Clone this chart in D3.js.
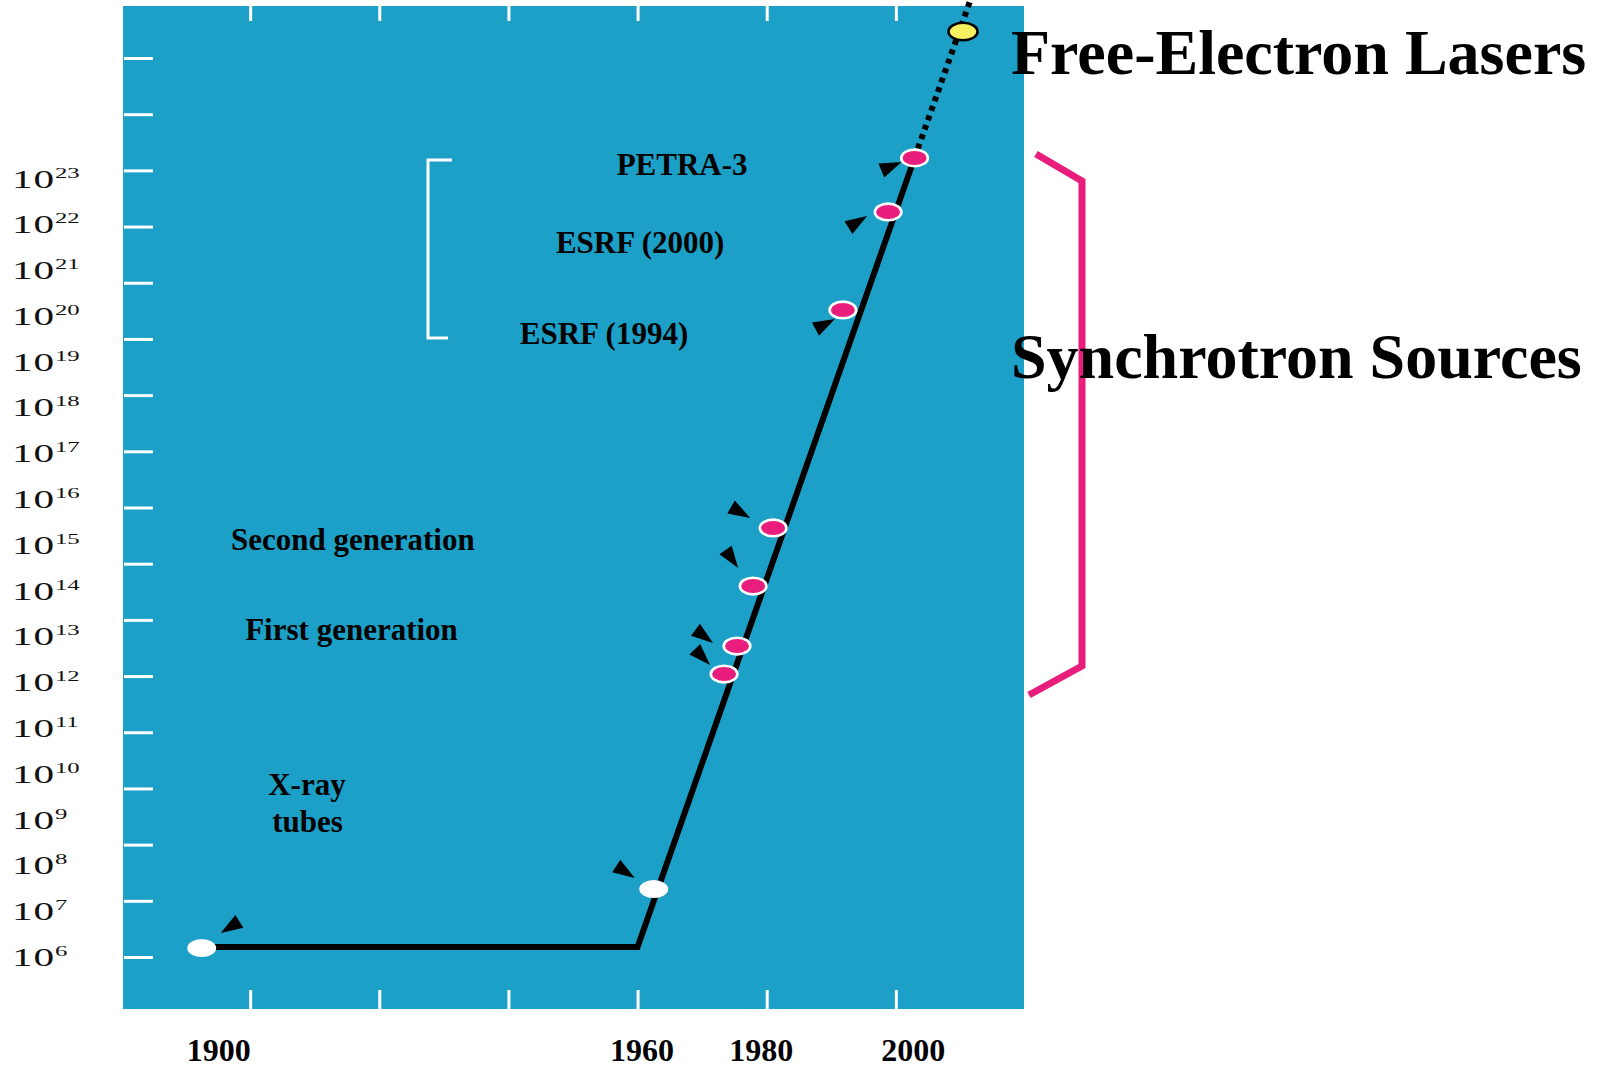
<!DOCTYPE html>
<html><head><meta charset="utf-8">
<script src="https://cdn.jsdelivr.net/npm/d3@7"></script>
<style>
html,body{margin:0;padding:0;background:#fff;}
svg{display:block;}
</style></head><body>
<svg id="chart" width="1598" height="1069"></svg>
<script>
// ---------------- data ----------------
const pointNames = ["X-ray tube", "Rotating anode", "First generation A", "First generation B",
  "Second generation A", "Second generation B", "ESRF (1994)", "ESRF (2000)", "PETRA-3", "Free-Electron Laser"];
const pointYears = [1892.5, 1962.5, 1973.4, 1975.4, 1977.9, 1981.0, 1991.8, 1998.8, 2002.9, 2010.4];
const pointBrilliance = [1.57e6, 3.05e7, 1.51e12, 6.17e12, 1.26e14, 2.34e15, 1.35e20, 1.86e22, 2.82e23, 1.62e26];
const pointKinds = ["tube", "tube", "sync", "sync", "sync", "sync", "sync", "sync", "sync", "fel"];

const trendYears = [1892.5, 1960, 2002.9];
const trendBrilliance = [1.65e6, 1.65e6, 2.82e23];
const projectionYears = [2002.9, 2011.8];
const projectionBrilliance = [2.82e23, 1e27];

const yTickExponents = [6, 7, 8, 9, 10, 11, 12, 13, 14, 15, 16, 17, 18, 19, 20, 21, 22, 23];
const frameTickCount = 17;
const xTickYears = [1900, 1920, 1940, 1960, 1980, 2000];
const xLabelYears = [1900, 1960, 1980, 2000];

const annotationTexts = ["PETRA-3", "ESRF (2000)", "ESRF (1994)", "Second generation", "First generation", "X-ray", "tubes"];
const annotationYears = [1966.9, 1960.4, 1954.8, 1915.9, 1915.7, 1908.8, 1908.9];
const annotationExponents = [23.08, 21.37, 19.39, 14.89, 12.92, 9.54, 8.73];

// ---------------- layout / style (not data) ----------------
const plotTop = 6, plotBottom = 1009;
const BLUE = "#1ca0c7", PINK = "#e91d7c", YELLOW = "#f7f162";
const serifBold = "'Liberation Serif', 'Times New Roman', serif";
// arrow heads: tip offset from point (px) and direction (deg)
const arrowDX = [19, -19, -14, -24, -15, -23, -8, -21, -13];
const arrowDY = [-15, -11, -9, -3, -18, -10, 9, 4, 4];
const arrowAngle = [148, 33, 46, 37, 55, 30, -28, -32, -23];
const xLabelNudge = {1900: -32, 1960: 4, 1980: -6, 2000: 17};

const svg = d3.select("#chart");

const x = d3.scaleLinear().domain([1880, 2020]).range([121, 1025]);
const y = d3.scaleLog().domain([1e6, 1e23]).range([957, 178.5]);
const frameY = d3.scaleLinear().domain([0, frameTickCount - 1]).range([957, 58]);

// blue plotting frame
svg.append("rect")
  .attr("x", x(1880) + 2).attr("y", plotTop)
  .attr("width", x(2020) - x(1880) - 3).attr("height", plotBottom - plotTop)
  .attr("fill", BLUE);

// white frame ticks (left)
const gLeftTicks = svg.append("g").attr("transform", `translate(${x(1880) + 3},0)`)
  .call(d3.axisRight(frameY).tickValues(d3.range(frameTickCount)).tickSize(29).tickFormat(""));
gLeftTicks.select(".domain").remove();
gLeftTicks.selectAll("line").attr("stroke", "#fff").attr("stroke-width", 3);

// white frame ticks top & bottom
const gTop = svg.append("g").attr("transform", `translate(0,${plotTop})`)
  .call(d3.axisBottom(x).tickValues(xTickYears).tickSize(15).tickFormat(""));
gTop.select(".domain").remove();
gTop.selectAll("line").attr("stroke", "#fff").attr("stroke-width", 3);

const gBottom = svg.append("g").attr("transform", `translate(0,${plotBottom})`)
  .call(d3.axisTop(x).tickValues(xTickYears).tickSize(19).tickFormat(""));
gBottom.select(".domain").remove();
gBottom.selectAll("line").attr("stroke", "#fff").attr("stroke-width", 3);

// y labels 10^n
const gY = svg.append("g").attr("transform", "translate(12,0)")
  .call(d3.axisLeft(y).tickValues(yTickExponents.map(e => Math.pow(10, e))).tickSize(0).tickFormat(""));
gY.select(".domain").remove();
gY.selectAll(".tick").each(function(d, i) {
  const t = d3.select(this).select("text");
  t.attr("x", null).attr("dy", null).attr("text-anchor", "start")
    .attr("transform", "translate(0,8.5) scale(1.65,1)")
    .attr("fill", "#111")
    .style("font-family", "'Liberation Serif', 'Times New Roman', serif");
  t.append("tspan").attr("font-size", 25).attr("letter-spacing", 0.5).text("10");
  t.append("tspan").attr("font-size", 15).attr("dy", -10).text(String(yTickExponents[i]));
});

// x labels
const gX = svg.append("g").attr("transform", "translate(0,1061)")
  .call(d3.axisBottom(x).tickValues(xLabelYears).tickSize(0).tickFormat(d3.format("d")));
gX.select(".domain").remove();
gX.selectAll("text")
  .attr("y", 0).attr("dy", null)
  .attr("x", d => xLabelNudge[d] || 0)
  .attr("fill", "#000")
  .style("font-family", serifBold).style("font-weight", "bold").style("font-size", "32px");

// white bracket in plot (around PETRA / ESRF labels)
svg.append("path")
  .attr("d", d3.line()([[452, 160], [428, 160], [428, 338], [448, 338]]))
  .attr("fill", "none").attr("stroke", "#fff").attr("stroke-width", 3);

// trend line
const line = d3.line().x(d => x(d[0])).y(d => y(d[1]));
svg.append("path")
  .attr("d", line(trendYears.map((yr, i) => [yr, trendBrilliance[i]])))
  .attr("fill", "none").attr("stroke", "#000").attr("stroke-width", 6)
  .attr("stroke-linejoin", "miter");
svg.append("path")
  .attr("d", line(projectionYears.map((yr, i) => [yr, projectionBrilliance[i]])))
  .attr("fill", "none").attr("stroke", "#000").attr("stroke-width", 6)
  .attr("stroke-dasharray", "5,5");

// arrow heads
svg.append("g").selectAll("path")
  .data(pointYears.slice(0, 9))
  .join("path")
  .attr("d", "M0,0 L-22,-7.5 L-22,7.5 Z")
  .attr("fill", "#000")
  .attr("transform", (d, i) =>
    `translate(${x(pointYears[i]) + arrowDX[i]},${y(pointBrilliance[i]) + arrowDY[i]}) rotate(${arrowAngle[i]})`);

// points
const pts = pointYears.map((yr, i) => ({yr, v: pointBrilliance[i], kind: pointKinds[i], name: pointNames[i]}));
svg.append("g").selectAll("ellipse")
  .data(pts)
  .join("ellipse")
  .attr("cx", d => x(d.yr)).attr("cy", d => y(d.v))
  .attr("rx", d => d.kind === "tube" ? 14.5 : d.kind === "fel" ? 14.5 : 13.3)
  .attr("ry", d => d.kind === "tube" ? 9 : d.kind === "fel" ? 8.8 : 8.3)
  .attr("fill", d => d.kind === "tube" ? "#fff" : d.kind === "fel" ? YELLOW : PINK)
  .attr("stroke", d => d.kind === "tube" ? "none" : d.kind === "fel" ? "#000" : "#fff")
  .attr("stroke-width", 2.6);

// annotations inside the plot
svg.append("g").selectAll("text")
  .data(annotationTexts)
  .join("text")
  .attr("x", (d, i) => x(annotationYears[i]))
  .attr("y", (d, i) => y(Math.pow(10, annotationExponents[i])))
  .attr("text-anchor", "middle")
  .attr("fill", "#000")
  .style("font-family", serifBold).style("font-weight", "bold").style("font-size", "31px")
  .text(d => d);

// pink bracket for synchrotron sources
svg.append("path")
  .attr("d", d3.line()([[1036, 154], [1082, 181], [1082, 666], [1029, 695]]))
  .attr("fill", "none").attr("stroke", PINK).attr("stroke-width", 7);

// big labels
svg.append("text").attr("x", 1011).attr("y", 74)
  .style("font-family", serifBold).style("font-weight", "bold").style("font-size", "64px")
  .attr("fill", "#000").text("Free-Electron Lasers");
svg.append("text").attr("x", 1011).attr("y", 378)
  .style("font-family", serifBold).style("font-weight", "bold").style("font-size", "64px")
  .attr("fill", "#000").text("Synchrotron Sources");
</script>
</body></html>
